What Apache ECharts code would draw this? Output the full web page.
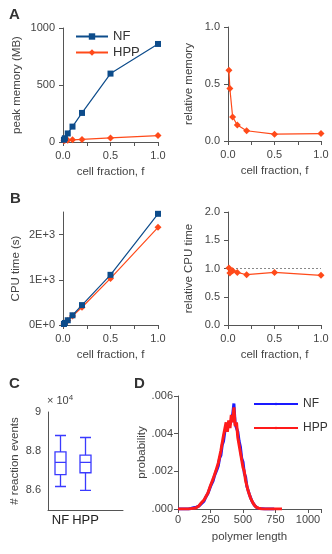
<!DOCTYPE html>
<html>
<head>
<meta charset="utf-8">
<script src="https://cdn.jsdelivr.net/npm/echarts@6/dist/echarts.min.js"></script>
<style>
  html, body { margin: 0; padding: 0; background: #fff; }
  #chart { width: 332px; height: 554px; }
</style>
</head>
<body>
<div id="chart"></div>
<script>
// cell fraction, f
var fractions = [0.01, 0.02, 0.05, 0.1, 0.2, 0.5, 1.0]
// A: peak memory (MB)
var memNF = [20, 33, 75, 135, 255, 600, 860]
var memHPP = [12, 15, 16, 19, 23, 36, 56]
var memRel = [0.62, 0.46, 0.21, 0.14, 0.09, 0.06, 0.065]
// B: CPU time (s)
var cpuNF = [22, 45, 105, 215, 440, 1110, 2460]
var cpuHPP = [21, 42, 100, 200, 392, 1030, 2160]
var cpuRel = [1.01, 0.92, 0.96, 0.93, 0.89, 0.93, 0.88]
var cpuRefLevel = 1
// C: # reaction events (x 10^4) -> min, Q1, median, Q3, max
var boxCats = ['NF', 'HPP', '']
var boxNF = [8.62, 8.68, 8.743, 8.797, 8.88]
var boxHPP = [8.60, 8.69, 8.743, 8.78, 8.87]
// D: polymer length histogram, probability x 1e-3, bins of 10 from 0
var lenStep = 10
var histNF = [
  0, 0, 0, 0, 0, 0, 0, 0, 0, 0,
  0.03, 0.04, 0.07, 0.06, 0.1, 0.12, 0.15, 0.2, 0.28, 0.36,
  0.42, 0.58, 0.62, 0.82, 0.92, 1.2, 1.28, 1.5, 1.75, 1.8,
  2.1, 2.3, 2.7, 2.85, 3.4, 3.6, 4.1, 4.3, 4.5, 4.6,
  4.5, 4.7, 5.0, 5.6, 4.5, 4.5, 4.1, 3.6, 3.3, 2.7,
  2.5, 1.9, 1.7, 1.2, 1.1, 0.75, 0.65, 0.4, 0.32, 0.18,
  0.14, 0.06, 0.06, 0.02, 0.02, 0.01, 0, 0, 0, 0,
  0, 0, 0, 0, 0
]
var histHPP = [
  0, 0, 0, 0, 0, 0, 0, 0, 0, 0,
  0.02, 0.05, 0.04, 0.09, 0.07, 0.13, 0.16, 0.2, 0.33, 0.31,
  0.48, 0.6, 0.58, 0.85, 0.9, 1.25, 1.2, 1.6, 1.6, 2.0,
  1.95, 2.45, 2.5, 3.1, 3.2, 3.9, 3.8, 4.6, 4.1, 4.7,
  4.3, 5.0, 4.6, 5.4, 4.4, 4.6, 3.8, 3.8, 3.0, 3.0,
  2.2, 2.0, 1.5, 1.4, 0.95, 0.85, 0.55, 0.5, 0.28, 0.22,
  0.1, 0.09, 0.04, 0.04, 0.01, 0, 0, 0, 0, 0,
  0, 0, 0, 0, 0, 0, 0, 0, 0, 0, 0
]

var FONT = 'Liberation Sans, Arial, sans-serif'
var NF_COLOR = '#0d4c8b'
var HPP_COLOR = '#ff4a1a'
var AXIS_COLOR = '#555'
var TEXT_COLOR = '#444'

function pairs(xs, ys) {
  return ys.map(function (y, i) { return [xs[i], y] })
}
function histPairs(ys) {
  return ys.map(function (y, i) { return [i * lenStep, y] })
}

function baseAxis(extra) {
  var ax = {
    axisLine: { show: true, lineStyle: { color: AXIS_COLOR, width: 1 } },
    axisTick: { show: true, length: 4, lineStyle: { color: AXIS_COLOR } },
    axisLabel: { color: TEXT_COLOR, fontFamily: FONT, fontSize: 11, margin: 8 },
    splitLine: { show: false },
    nameLocation: 'middle',
    nameTextStyle: { color: TEXT_COLOR, fontFamily: FONT, fontSize: 11.5 }
  }
  for (var k in extra) {
    if (typeof extra[k] === 'object' && ax[k] && !Array.isArray(extra[k])) {
      ax[k] = Object.assign({}, ax[k], extra[k])
    } else {
      ax[k] = extra[k]
    }
  }
  return ax
}

function fracAxis(gridIndex) {
  return baseAxis({
    gridIndex: gridIndex, type: 'value', min: 0, max: 1, interval: 0.25,
    name: 'cell fraction, f', nameGap: 24,
    axisLabel: {
      formatter: function (v) {
        return Math.abs(v * 2 - Math.round(v * 2)) < 1e-9 ? v.toFixed(1) : ''
      }
    }
  })
}

function lineSeries(name, xi, yi, data, color, symbol, size, z) {
  return {
    name: name, type: 'line', xAxisIndex: xi, yAxisIndex: yi, data: data,
    symbol: symbol, symbolSize: size, z: z,
    itemStyle: { color: color },
    lineStyle: { color: color, width: 1.2 }
  }
}

var chart = echarts.init(document.getElementById('chart'))
var option = {
  animation: false,
  backgroundColor: '#fff',
  textStyle: { fontFamily: FONT },
  grid: [
    { left: 63, top: 28, width: 95, height: 114 },
    { left: 228, top: 27, width: 93, height: 114 },
    { left: 63, top: 212, width: 95, height: 113 },
    { left: 228, top: 212, width: 93, height: 113 },
    { left: 48, top: 412, width: 75, height: 98 },
    { left: 178, top: 396, width: 143, height: 113 }
  ],
  legend: [
    {
      data: ['NF', 'HPP'], left: 70, top: 25, orient: 'vertical',
      itemWidth: 32, itemHeight: 8, itemGap: 3,
      textStyle: { color: '#333', fontFamily: FONT, fontSize: 13 }
    },
    {
      data: ['NF ', 'HPP '], left: 248, top: 393, orient: 'vertical',
      itemWidth: 44, itemHeight: 3, itemGap: 12,
      textStyle: { color: '#333', fontFamily: FONT, fontSize: 12 }
    }
  ],
  xAxis: [
    fracAxis(0),
    fracAxis(1),
    fracAxis(2),
    fracAxis(3),
    baseAxis({
      gridIndex: 4, type: 'category', data: boxCats, boundaryGap: true,
      axisTick: { show: false },
      axisLabel: { color: '#222', fontSize: 13, margin: 4, interval: 0 }
    }),
    baseAxis({
      gridIndex: 5, type: 'value', min: 0, max: 1100, interval: 250,
      name: 'polymer length', nameGap: 22,
      axisLabel: {
        margin: 5,
        formatter: function (v) { return v > 1000 ? '' : String(v) }
      }
    })
  ],
  yAxis: [
    baseAxis({
      gridIndex: 0, type: 'value', min: 0, max: 1000, interval: 500,
      name: 'peak memory (MB)', nameGap: 40,
      axisLabel: { formatter: function (v) { return String(v) } }
    }),
    baseAxis({
      gridIndex: 1, type: 'value', min: 0, max: 1, interval: 0.5,
      name: 'relative memory', nameGap: 33,
      axisLabel: { formatter: function (v) { return v.toFixed(1) } }
    }),
    baseAxis({
      gridIndex: 2, type: 'value', min: 0, max: 2500, interval: 1000,
      name: 'CPU time (s)', nameGap: 41,
      axisLabel: {
        showMaxLabel: false,
        formatter: function (v) {
          return v === 0 ? '0E+0' : (v / 1000) + 'E+3'
        }
      }
    }),
    baseAxis({
      gridIndex: 3, type: 'value', min: 0, max: 2, interval: 0.5,
      name: 'relative CPU time', nameGap: 33,
      axisLabel: { formatter: function (v) { return v.toFixed(1) } }
    }),
    baseAxis({
      gridIndex: 4, type: 'value', min: 8.5, max: 9.0, interval: 0.1,
      name: '# reaction events', nameGap: 27,
      axisTick: { show: false },
      axisLabel: {
        margin: 7,
        formatter: function (v) {
          var t = Math.round(v * 10)
          if (t === 90) return '9'
          if (t === 86 || t === 88) return (t / 10).toFixed(1)
          return ''
        }
      }
    }),
    baseAxis({
      gridIndex: 5, type: 'value', min: 0, max: 6, interval: 2,
      name: 'probability', nameGap: 30,
      axisLabel: {
        margin: 5,
        formatter: function (v) { return '.' + ('00' + Math.round(v)).slice(-3) }
      }
    })
  ],
  series: [
    lineSeries('HPP', 0, 0, pairs(fractions, memHPP), HPP_COLOR, 'diamond', 7, 2),
    lineSeries('NF', 0, 0, pairs(fractions, memNF), NF_COLOR, 'rect', 6, 3),
    lineSeries('HPP', 1, 1, pairs(fractions, memRel), HPP_COLOR, 'diamond', 7, 2),
    {
      type: 'line', xAxisIndex: 3, yAxisIndex: 3,
      data: [[0, cpuRefLevel], [1, cpuRefLevel]],
      symbol: 'none', z: 1, silent: true,
      lineStyle: { color: '#888', width: 1, type: [2, 2] }
    },
    lineSeries('HPP', 2, 2, pairs(fractions, cpuHPP), HPP_COLOR, 'diamond', 7, 2),
    lineSeries('NF', 2, 2, pairs(fractions, cpuNF), NF_COLOR, 'rect', 6, 3),
    lineSeries('HPP', 3, 3, pairs(fractions, cpuRel), HPP_COLOR, 'diamond', 7, 2),
    {
      type: 'boxplot', xAxisIndex: 4, yAxisIndex: 4,
      boxWidth: [11, 11],
      data: [boxNF, boxHPP],
      itemStyle: { color: 'transparent', borderColor: '#3a3aff', borderWidth: 1.3 }
    },
    {
      name: 'NF ', type: 'line', xAxisIndex: 5, yAxisIndex: 5,
      data: histPairs(histNF), symbol: 'none', z: 2,
      lineStyle: { color: '#1a1aff', width: 3 }, itemStyle: { color: '#1a1aff' }
    },
    {
      name: 'HPP ', type: 'line', xAxisIndex: 5, yAxisIndex: 5,
      data: histPairs(histHPP), symbol: 'none', z: 3,
      lineStyle: { color: '#ff1a1a', width: 3 }, itemStyle: { color: '#ff1a1a' }
    }
  ],
  graphic: [
    { type: 'text', left: 9, top: 7, style: { text: 'A', font: 'bold 15px ' + FONT, fill: '#333' } },
    { type: 'text', left: 10, top: 191, style: { text: 'B', font: 'bold 15px ' + FONT, fill: '#333' } },
    { type: 'text', left: 9, top: 376, style: { text: 'C', font: 'bold 15px ' + FONT, fill: '#333' } },
    { type: 'text', left: 134, top: 376, style: { text: 'D', font: 'bold 15px ' + FONT, fill: '#333' } },
    {
      type: 'text', left: 47, top: 394,
      style: {
        text: '× 10{sup|4}', font: '11px ' + FONT, fill: '#444',
        rich: { sup: { fontSize: 8, verticalAlign: 'top', padding: [0, 0, 6, 0], fill: '#444' } }
      }
    }
  ]
}
chart.setOption(option)
</script>
</body>
</html>
